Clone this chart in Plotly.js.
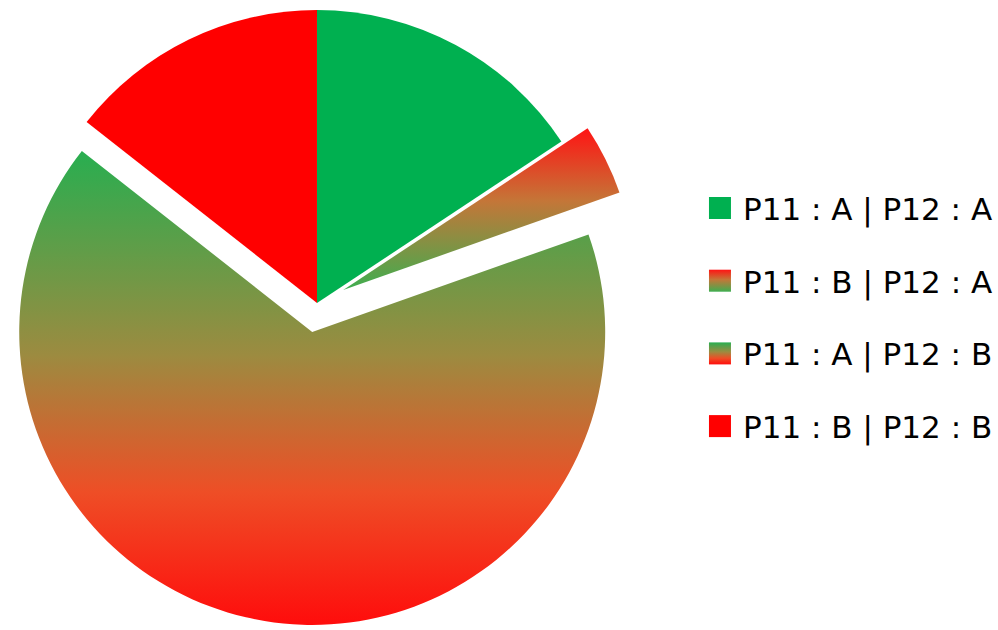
<!DOCTYPE html>
<html>
<head>
<meta charset="utf-8">
<script src="https://cdn.plot.ly/plotly-3.0.1.min.js"></script>
<style>
  html, body { margin: 0; padding: 0; background: #ffffff; overflow: hidden; }
  #chart { position: absolute; left: -20px; top: -20px; width: 1018px; height: 700px; }
</style>
</head>
<body>
<div id="chart"></div>
<script>
// ---- data ----
const labels = ['P11 : A | P12 : A', 'P11 : B | P12 : A', 'P11 : A | P12 : B', 'P11 : B | P12 : B'];
const values = [15.7, 3.9, 66.0, 14.4];
const pulls = [0, 0.1, 0.1, 0];
const baseColors = ['#00B050', '#C47638', '#9C8B40', '#FF0000'];

// gradient fills per slice (null = solid)
const gradients = [
  null,
  [[0, '#FF1414'], [0.45, '#C47638'], [1, '#3EAE50']],
  [[0, '#28AE50'], [0.43, '#9C8B40'], [0.72, '#EE4E26'], [1, '#FF0C0C']],
  null
];

const trace = {
  type: 'pie',
  labels: labels,
  values: values,
  pull: pulls,
  sort: false,
  direction: 'clockwise',
  rotation: 0,
  textinfo: 'none',
  hoverinfo: 'none',
  marker: { colors: baseColors, line: { width: 0 } },
  domain: { x: [0.01444, 0.6476], y: [0.0781, 0.999] }
};

const layout = {
  width: 1018,
  height: 700,
  margin: { l: 0, r: 0, t: 0, b: 0 },
  paper_bgcolor: '#ffffff',
  showlegend: true,
  legend: {
    x: 0.7092, xanchor: 'left',
    y: 0.72, yanchor: 'top',
    bgcolor: 'rgba(0,0,0,0)',
    font: { family: 'DejaVu Sans', size: 31, color: '#000000' },
    itemclick: false, itemdoubleclick: false
  }
};

Plotly.newPlot('chart', [trace], layout, { staticPlot: true, displayModeBar: false }).then(function (gd) {
  const svgNS = 'http://www.w3.org/2000/svg';
  const svg = gd.querySelector('svg.main-svg');
  let defs = svg.querySelector('defs');
  if (!defs) { defs = document.createElementNS(svgNS, 'defs'); svg.insertBefore(defs, svg.firstChild); }
  gradients.forEach(function (g, i) {
    if (!g) return;
    const lg = document.createElementNS(svgNS, 'linearGradient');
    lg.setAttribute('id', 'grad' + i);
    lg.setAttribute('x1', '0'); lg.setAttribute('y1', '0');
    lg.setAttribute('x2', '0'); lg.setAttribute('y2', '1');
    g.forEach(function (s) {
      const st = document.createElementNS(svgNS, 'stop');
      st.setAttribute('offset', s[0]);
      st.setAttribute('stop-color', s[1]);
      lg.appendChild(st);
    });
    defs.appendChild(lg);
  });
  // slices
  const slices = gd.querySelectorAll('.pielayer .slice');
  slices.forEach(function (sl, i) {
    const p = sl.querySelector('path.surface');
    if (p && gradients[i]) p.style.fill = 'url(#grad' + i + ')';
  });
  // legend: spacing, symbol size, gradients
  const scroll = gd.querySelector('.legend .scrollbox');
  if (scroll) scroll.removeAttribute('clip-path');
  const items = gd.querySelectorAll('.legend .traces');
  const firstY = 32, step = 72.7;
  items.forEach(function (it, i) {
    it.setAttribute('transform', 'translate(1,' + (firstY + i * step) + ')');
    const p = it.querySelector('.legendpoints path');
    if (p) {
      p.setAttribute('d', 'M8,11H-14V-11H8Z');
      if (gradients[i]) p.style.fill = 'url(#grad' + i + ')';
      p.style.strokeWidth = '0px';
    }
  });
});
</script>
</body>
</html>
